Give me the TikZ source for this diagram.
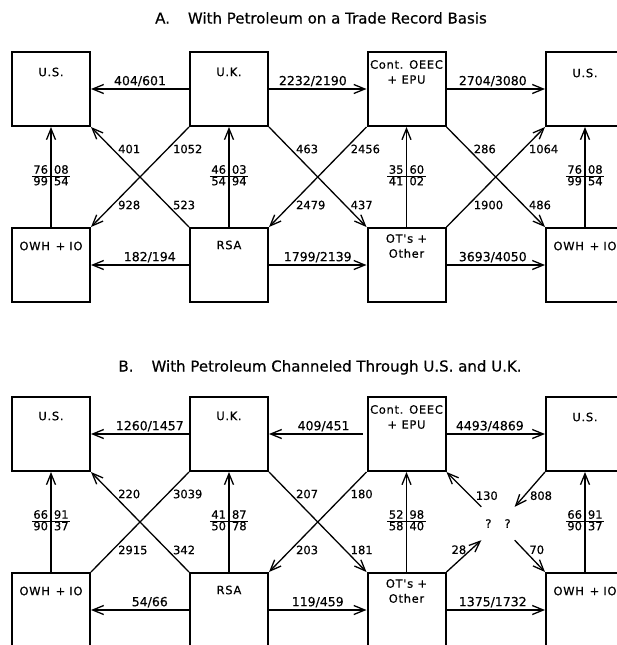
\documentclass[tikz,border=0pt]{standalone}
\usepackage{fontspec}
\setmainfont[FakeBold=0.5]{DejaVu Sans}
\newfontfamily\labfont[LetterSpace=6,FakeBold=0.6]{DejaVu Sans}
\usetikzlibrary{arrows.meta,calc}
\newcommand\fr[4]{\begin{tabular}{@{\hspace{1.5pt}}r@{\hspace{6pt}}l@{\hspace{1.5pt}}}#1&#2\\[-1pt]\hline #3&#4\end{tabular}}
\begin{document}
\begin{tikzpicture}[x=1pt,y=-1pt,
  box/.style={draw,line width=2pt,minimum width=78pt,minimum height=74pt,inner sep=0pt},
  btext/.style={font=\labfont\fontsize{11.5}{15}\selectfont,align=center,inner sep=0pt},
  flow/.style={line width=1.3pt,-{Straight Barb[length=11pt,width=9pt]}},
  plain/.style={line width=1.3pt},
  num/.style={font=\fontsize{11.5}{13}\selectfont,inner sep=1pt},
  hl/.style={font=\fontsize{12.5}{14}\selectfont,inner sep=1pt,above=1pt},
  dl/.style={num,anchor=west,xshift=4pt},
  dr/.style={num,anchor=east,xshift=-3pt},
  frac/.style={font=\fontsize{11.5}{12}\selectfont,inner sep=0pt},
  ttl/.style={font=\fontsize{15}{18}\selectfont,inner sep=0pt,anchor=base}
]
\useasboundingbox (0,0) rectangle (617,645);
% ---------- A ----------
\node[ttl] (titleA) at (321,23.5) {A.\hspace{18pt}With Petroleum on a Trade Record Basis};
\node[box] (A-us1)  at (51,89) {};
\node[box] (A-uk)   at (229,89) {};
\node[box] (A-cont) at (406.5,89) {};
\node[box] (A-us2)  at (585,89) {};
\node[box] (A-owh1) at (51,265) {};
\node[box] (A-rsa)  at (229,265) {};
\node[box] (A-ots)  at (406.5,265) {};
\node[box] (A-owh2) at (585,265) {};
\node[btext] (A-us1t)  at ($(A-us1.north)+(0,21)$) {U.S.};
\node[btext] (A-ukt)   at ($(A-uk.north)+(0,21)$) {U.K.};
\node[btext] (A-contt) at ($(A-cont.north)+(0,21)$) {Cont. OEEC\\+ EPU};
\node[btext] (A-us2t)  at ($(A-us2.north)+(0,22)$) {U.S.};
\node[btext] (A-owh1t) at ($(A-owh1.north)+(0,19)$) {OWH\hspace{0.5em}+\hspace{0.35em}IO};
\node[btext] (A-rsat)  at ($(A-rsa.north)+(0,18)$) {RSA};
\node[btext] (A-otst)  at ($(A-ots.north)+(0,19)$) {OT's +\\Other};
\node[btext] (A-owh2t) at ($(A-owh2.north)+(0,19)$) {OWH\hspace{0.5em}+\hspace{0.35em}IO};
% horizontal
\draw[flow] (A-uk.west) -- node[hl]{404/601} (A-us1.east);
\draw[flow] (A-uk.east) -- node[hl,pos=.45]{2232/2190} (A-cont.west);
\draw[flow] (A-cont.east) -- node[hl,pos=.47]{2704/3080} (A-us2.west);
\draw[flow] (A-rsa.west) -- node[hl,pos=.4]{182/194} (A-owh1.east);
\draw[flow] (A-rsa.east) -- node[hl]{1799/2139} (A-ots.west);
\draw[flow] (A-ots.east) -- node[hl,pos=.47]{3693/4050} (A-owh2.west);
% vertical
\draw[flow] (A-owh1.north) -- node[frac]{\fr{76}{08}{99}{54}} (A-us1.south);
\draw[flow] (A-rsa.north) -- node[frac]{\fr{46}{03}{54}{94}} (A-uk.south);
\draw[flow] (A-ots.north) -- node[frac]{\fr{35}{60}{41}{02}} (A-cont.south);
\draw[flow] (A-owh2.north) -- node[frac]{\fr{76}{08}{99}{54}} (A-us2.south);
% diagonal
\draw[flow] (A-rsa.north west) -- node[dl,pos=.78]{401} node[dl,pos=.22]{523} (A-us1.south east);
\draw[flow] (A-uk.south west) -- node[dl,pos=.22]{1052} node[dl,pos=.78]{928} (A-owh1.north east);
\draw[flow] (A-uk.south east) -- node[dl,pos=.22]{463} node[dl,pos=.78]{437} (A-ots.north west);
\draw[flow] (A-cont.south west) -- node[dl,pos=.22]{2456} node[dl,pos=.78]{2479} (A-rsa.north east);
\draw[flow] (A-cont.south east) -- node[dl,pos=.22]{286} node[dl,pos=.78]{486} (A-owh2.north west);
\draw[flow] (A-ots.north east) -- node[dl,pos=.78]{1064} node[dl,pos=.22]{1900} (A-us2.south west);
% ---------- B ----------
\node[ttl] (titleB) at (320,371.5) {B.\hspace{18pt}With Petroleum Channeled Through U.S. and U.K.};
\node[box] (B-us1)  at (51,434) {};
\node[box] (B-uk)   at (229,434) {};
\node[box] (B-cont) at (406.5,434) {};
\node[box] (B-us2)  at (585,434) {};
\node[box] (B-owh1) at (51,610) {};
\node[box] (B-rsa)  at (229,610) {};
\node[box] (B-ots)  at (406.5,610) {};
\node[box] (B-owh2) at (585,610) {};
\node[btext] (B-us1t)  at ($(B-us1.north)+(0,20)$) {U.S.};
\node[btext] (B-ukt)   at ($(B-uk.north)+(0,20)$) {U.K.};
\node[btext] (B-contt) at ($(B-cont.north)+(0,21)$) {Cont. OEEC\\+ EPU};
\node[btext] (B-us2t)  at ($(B-us2.north)+(0,21)$) {U.S.};
\node[btext] (B-owh1t) at ($(B-owh1.north)+(0,19)$) {OWH\hspace{0.5em}+\hspace{0.35em}IO};
\node[btext] (B-rsat)  at ($(B-rsa.north)+(0,18)$) {RSA};
\node[btext] (B-otst)  at ($(B-ots.north)+(0,19)$) {OT's +\\Other};
\node[btext] (B-owh2t) at ($(B-owh2.north)+(0,19)$) {OWH\hspace{0.5em}+\hspace{0.35em}IO};
\node[num,minimum width=33pt,minimum height=33pt,inner sep=0pt] (q) at (498,523.5) {?\hspace{13pt}?};
% horizontal
\draw[flow] (B-uk.west) -- node[hl,pos=.4]{1260/1457} (B-us1.east);
\draw[flow,shorten <=4pt] (B-cont.west) -- node[hl,pos=.44]{409/451} (B-uk.east);
\draw[flow] (B-cont.east) -- node[hl,pos=.44]{4493/4869} (B-us2.west);
\draw[flow] (B-rsa.west) -- node[hl,pos=.4]{54/66} (B-owh1.east);
\draw[flow] (B-rsa.east) -- node[hl]{119/459} (B-ots.west);
\draw[flow] (B-ots.east) -- node[hl,pos=.47]{1375/1732} (B-owh2.west);
% vertical
\draw[flow] (B-owh1.north) -- node[frac]{\fr{66}{91}{90}{37}} (B-us1.south);
\draw[flow] (B-rsa.north) -- node[frac]{\fr{41}{87}{50}{78}} (B-uk.south);
\draw[flow] (B-ots.north) -- node[frac]{\fr{52}{98}{58}{40}} (B-cont.south);
\draw[flow] (B-owh2.north) -- node[frac]{\fr{66}{91}{90}{37}} (B-us2.south);
% diagonal
\draw[flow] (B-rsa.north west) -- node[dl,pos=.78]{220} node[dl,pos=.22]{342} (B-us1.south east);
\draw[plain] (B-uk.south west) -- node[dl,pos=.22]{3039} node[dl,pos=.78]{2915} (B-owh1.north east);
\draw[flow] (B-uk.south east) -- node[dl,pos=.22]{207} node[dl,pos=.78]{181} (B-ots.north west);
\draw[flow] (B-cont.south west) -- node[dl,pos=.22]{180} node[dl,pos=.78]{203} (B-rsa.north east);
\draw[flow] (q.north west) -- node[dl,pos=.32]{130} (B-cont.south east);
\draw[flow] (B-us2.south west) -- node[dl,pos=.68]{808} (q.north east);
\draw[flow] (B-ots.north east) -- node[dr,pos=.7]{28} (q.south west);
\draw[flow] (q.south east) -- node[dl,pos=.3]{70} (B-owh2.north west);
\end{tikzpicture}
\end{document}
